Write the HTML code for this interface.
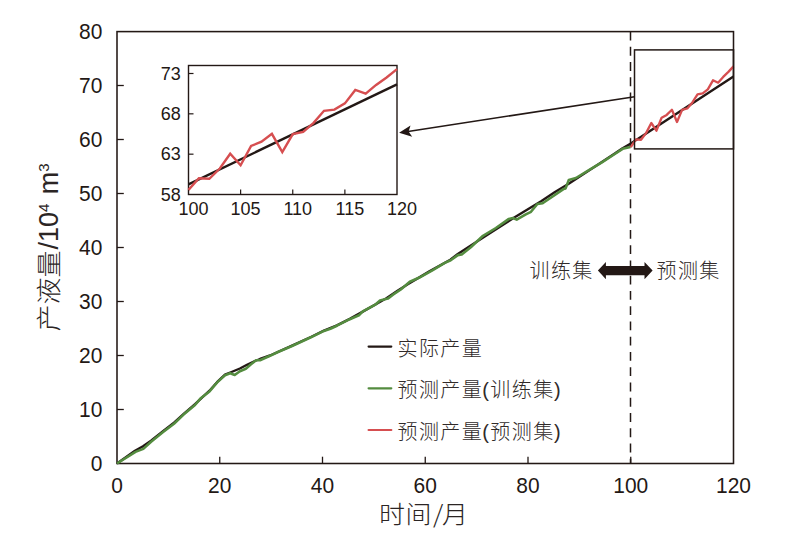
<!DOCTYPE html>
<html><head><meta charset="utf-8"><style>
html,body{margin:0;padding:0;background:#fff;}
body{width:793px;height:540px;overflow:hidden;}
svg{display:block;}
text{fill:#231815;}
.tk{font-family:"Liberation Sans",Arial,sans-serif;font-size:22.3px;}
.ti{font-family:"Liberation Sans",Arial,sans-serif;font-size:18px;}
.cj{font-family:"Liberation Sans","Noto Sans CJK SC",sans-serif;font-size:20px;font-weight:300;letter-spacing:1.4px;fill:#302a29;}
.ttl{font-family:"Liberation Sans","Noto Sans CJK SC",sans-serif;font-size:27px;font-weight:300;fill:#2b2524;}
.cjs{font-family:"Noto Sans CJK SC",sans-serif;font-weight:300;}
.sup{font-size:15px;}
</style></head><body>
<svg width="793" height="540" viewBox="0 0 793 540">
<rect x="117.0" y="31.6" width="616.5" height="431.9" fill="none" stroke="#231815" stroke-width="1.55"/>
<text transform="translate(102.4,471.30) scale(0.94,1)" class="tk" text-anchor="end">0</text>
<line x1="117.0" y1="409.50" x2="123.8" y2="409.50" stroke="#231815" stroke-width="1.3"/>
<text transform="translate(102.4,417.30) scale(0.94,1)" class="tk" text-anchor="end">10</text>
<line x1="117.0" y1="355.50" x2="123.8" y2="355.50" stroke="#231815" stroke-width="1.3"/>
<text transform="translate(102.4,363.30) scale(0.94,1)" class="tk" text-anchor="end">20</text>
<line x1="117.0" y1="301.50" x2="123.8" y2="301.50" stroke="#231815" stroke-width="1.3"/>
<text transform="translate(102.4,309.30) scale(0.94,1)" class="tk" text-anchor="end">30</text>
<line x1="117.0" y1="247.50" x2="123.8" y2="247.50" stroke="#231815" stroke-width="1.3"/>
<text transform="translate(102.4,255.30) scale(0.94,1)" class="tk" text-anchor="end">40</text>
<line x1="117.0" y1="193.50" x2="123.8" y2="193.50" stroke="#231815" stroke-width="1.3"/>
<text transform="translate(102.4,201.30) scale(0.94,1)" class="tk" text-anchor="end">50</text>
<line x1="117.0" y1="139.50" x2="123.8" y2="139.50" stroke="#231815" stroke-width="1.3"/>
<text transform="translate(102.4,147.30) scale(0.94,1)" class="tk" text-anchor="end">60</text>
<line x1="117.0" y1="85.50" x2="123.8" y2="85.50" stroke="#231815" stroke-width="1.3"/>
<text transform="translate(102.4,93.30) scale(0.94,1)" class="tk" text-anchor="end">70</text>
<text transform="translate(102.4,39.30) scale(0.94,1)" class="tk" text-anchor="end">80</text>
<text transform="translate(117.00,493.3) scale(0.94,1)" class="tk" text-anchor="middle">0</text>
<line x1="219.75" y1="463.5" x2="219.75" y2="456.7" stroke="#231815" stroke-width="1.3"/>
<text transform="translate(219.75,493.3) scale(0.94,1)" class="tk" text-anchor="middle">20</text>
<line x1="322.50" y1="463.5" x2="322.50" y2="456.7" stroke="#231815" stroke-width="1.3"/>
<text transform="translate(322.50,493.3) scale(0.94,1)" class="tk" text-anchor="middle">40</text>
<line x1="425.25" y1="463.5" x2="425.25" y2="456.7" stroke="#231815" stroke-width="1.3"/>
<text transform="translate(425.25,493.3) scale(0.94,1)" class="tk" text-anchor="middle">60</text>
<line x1="528.00" y1="463.5" x2="528.00" y2="456.7" stroke="#231815" stroke-width="1.3"/>
<text transform="translate(528.00,493.3) scale(0.94,1)" class="tk" text-anchor="middle">80</text>
<line x1="630.75" y1="463.5" x2="630.75" y2="456.7" stroke="#231815" stroke-width="1.3"/>
<text transform="translate(630.75,493.3) scale(0.94,1)" class="tk" text-anchor="middle">100</text>
<text transform="translate(733.50,493.3) scale(0.94,1)" class="tk" text-anchor="middle">120</text>
<line x1="630.5" y1="31.5" x2="630.5" y2="463.5" stroke="#231815" stroke-width="1.5" stroke-dasharray="8.9 6.36"/>
<polyline points="117.0,463.5 135.0,450.7 143.0,446.2 151.0,440.7 163.0,431.2 174.0,422.7 184.0,413.7 195.0,404.2 209.5,390.7 217.0,382.2 225.0,374.7 231.5,372.0 239.9,368.5 247.0,364.8 254.9,361.0 260.0,359.0 270.0,355.5 290.9,346.2 310.9,337.0 323.9,330.6 336.9,325.4 349.8,318.9 362.8,311.6 386.4,298.2 397.5,290.7 408.6,283.8 429.4,271.4 450.3,259.7 457.8,254.0 482.8,237.7 514.7,217.2 541.1,201.2 555.0,192.1 568.7,183.7 601.9,162.0 614.8,153.6 622.6,148.2 630.8,143.6 733.5,76.5" fill="none" stroke="#231815" stroke-width="2.4" stroke-linejoin="round"/>
<polyline points="117.0,463.5 135.5,451.9 143.3,448.9 151.1,441.7 163.1,432.1 174.0,423.7 183.6,414.6 195.0,405.0 200.4,398.6 209.5,391.4 217.2,382.4 225.0,375.2 230.2,373.3 234.7,375.0 239.9,371.3 245.8,368.7 251.0,364.2 256.1,360.3 260.0,360.2 270.0,355.8 278.0,352.0 290.9,346.5 298.0,343.2 310.9,337.3 323.9,330.9 330.4,328.7 336.9,325.7 349.8,319.2 358.9,315.3 362.8,311.4 375.8,304.3 380.0,300.5 387.8,298.6 393.0,294.7 400.8,289.5 409.8,281.7 418.9,277.8 431.9,270.7 444.8,262.9 450.7,260.3 457.8,255.1 461.7,254.5 470.8,247.3 483.0,235.8 495.9,228.0 508.9,218.9 512.8,218.0 516.7,219.6 525.8,214.4 531.0,211.8 537.4,204.0 542.6,203.3 553.0,196.2 563.4,189.1 565.6,188.4 568.8,180.0 575.9,178.0 588.9,170.2 601.9,162.4 614.8,154.0 622.6,148.8 630.5,147.0" fill="none" stroke="#548c3f" stroke-width="2.6" stroke-linejoin="round"/>
<polyline points="630.8,147.2 635.9,139.4 641.0,139.8 646.2,132.9 651.3,123.0 656.4,130.7 661.6,117.8 666.7,114.9 671.9,109.7 677.0,122.0 682.1,109.9 687.3,108.4 692.4,102.4 697.5,94.3 702.7,93.4 707.8,89.3 713.0,80.3 718.1,82.7 723.2,76.9 728.4,71.9 733.5,66.4" fill="none" stroke="#d64e50" stroke-width="2.3" stroke-linejoin="round"/>
<rect x="634.5" y="49.9" width="99" height="99.0" fill="none" stroke="#231815" stroke-width="1.5"/>
<rect x="188.5" y="65.5" width="208.5" height="129.0" fill="white" stroke="#231815" stroke-width="1.4"/>
<text x="180.8" y="200.80" class="ti" text-anchor="end">58</text>
<line x1="188.5" y1="154.17" x2="193.5" y2="154.17" stroke="#231815" stroke-width="1.2"/>
<text x="180.8" y="160.47" class="ti" text-anchor="end">63</text>
<line x1="188.5" y1="113.83" x2="193.5" y2="113.83" stroke="#231815" stroke-width="1.2"/>
<text x="180.8" y="120.13" class="ti" text-anchor="end">68</text>
<line x1="188.5" y1="73.50" x2="193.5" y2="73.50" stroke="#231815" stroke-width="1.2"/>
<text x="180.8" y="79.80" class="ti" text-anchor="end">73</text>
<text x="193.50" y="215" class="ti" text-anchor="middle">100</text>
<line x1="240.62" y1="194.5" x2="240.62" y2="189.5" stroke="#231815" stroke-width="1.2"/>
<text x="245.62" y="215" class="ti" text-anchor="middle">105</text>
<line x1="292.75" y1="194.5" x2="292.75" y2="189.5" stroke="#231815" stroke-width="1.2"/>
<text x="297.75" y="215" class="ti" text-anchor="middle">110</text>
<line x1="344.88" y1="194.5" x2="344.88" y2="189.5" stroke="#231815" stroke-width="1.2"/>
<text x="349.88" y="215" class="ti" text-anchor="middle">115</text>
<text x="402.00" y="215" class="ti" text-anchor="middle">120</text>
<polyline points="188.5,184.4 397.0,84.3" fill="none" stroke="#231815" stroke-width="2.4"/>
<polyline points="188.5,189.9 198.9,178.2 209.3,178.8 219.8,168.5 230.2,153.7 240.6,165.2 251.1,145.9 261.5,141.7 271.9,133.8 282.3,152.2 292.8,134.1 303.2,131.9 313.6,122.9 324.0,110.8 334.4,109.6 344.9,103.4 355.3,89.9 365.7,93.6 376.1,84.9 386.6,77.5 397.0,69.1" fill="none" stroke="#d64e50" stroke-width="2.4" stroke-linejoin="miter"/>
<line x1="634.6" y1="96.8" x2="408" y2="131.4" stroke="#231815" stroke-width="1.5"/>
<path d="M399.1,132.7 L410.5,125.6 L408.6,131.4 L412.2,136.8 Z" fill="#231815"/>
<path d="M597.9,270.6 L605.9,262.1 L605.9,266.0 L644.5,266.0 L644.5,262.1 L652.6,270.6 L644.5,279.2 L644.5,275.2 L605.9,275.2 L605.9,279.2 Z" fill="#231815"/>
<text x="529.5" y="277.5" class="cj">训练集</text>
<text x="656.5" y="277.5" class="cj">预测集</text>
<line x1="368.6" y1="346.6" x2="391.3" y2="346.6" stroke="#231815" stroke-width="2.2" stroke-linecap="round"/>
<text x="397.5" y="355.6" class="cj">实际产量</text>
<line x1="368.6" y1="388.3" x2="391.3" y2="388.3" stroke="#548c3f" stroke-width="2.2" stroke-linecap="round"/>
<text x="397.5" y="397.3" class="cj">预测产量<tspan dx="-0.8">(</tspan>训练集<tspan dx="-0.5">)</tspan></text>
<line x1="368.6" y1="430.0" x2="391.3" y2="430.0" stroke="#d64e50" stroke-width="2.2" stroke-linecap="round"/>
<text x="397.5" y="439.0" class="cj">预测产量<tspan dx="-0.8">(</tspan>预测集<tspan dx="-0.5">)</tspan></text>
<text transform="translate(0,523) scale(1,0.935)" x="379 405.5 433 442" y="0" class="ttl" style="font-size:26px">时间<tspan class="cjs">/</tspan>月</text>
<text transform="translate(57.5,248) rotate(-90) scale(1,0.94)" x="-83.5" y="0" class="ttl">产液量</text>
<text transform="translate(57.5,248) rotate(-90)" x="-1.5" y="0" class="ttl">/10<tspan class="sup" dy="-8.5">4</tspan><tspan dy="8.5" dx="1.8"> m</tspan><tspan class="sup" dy="-8.5">3</tspan></text>
</svg>
</body></html>
